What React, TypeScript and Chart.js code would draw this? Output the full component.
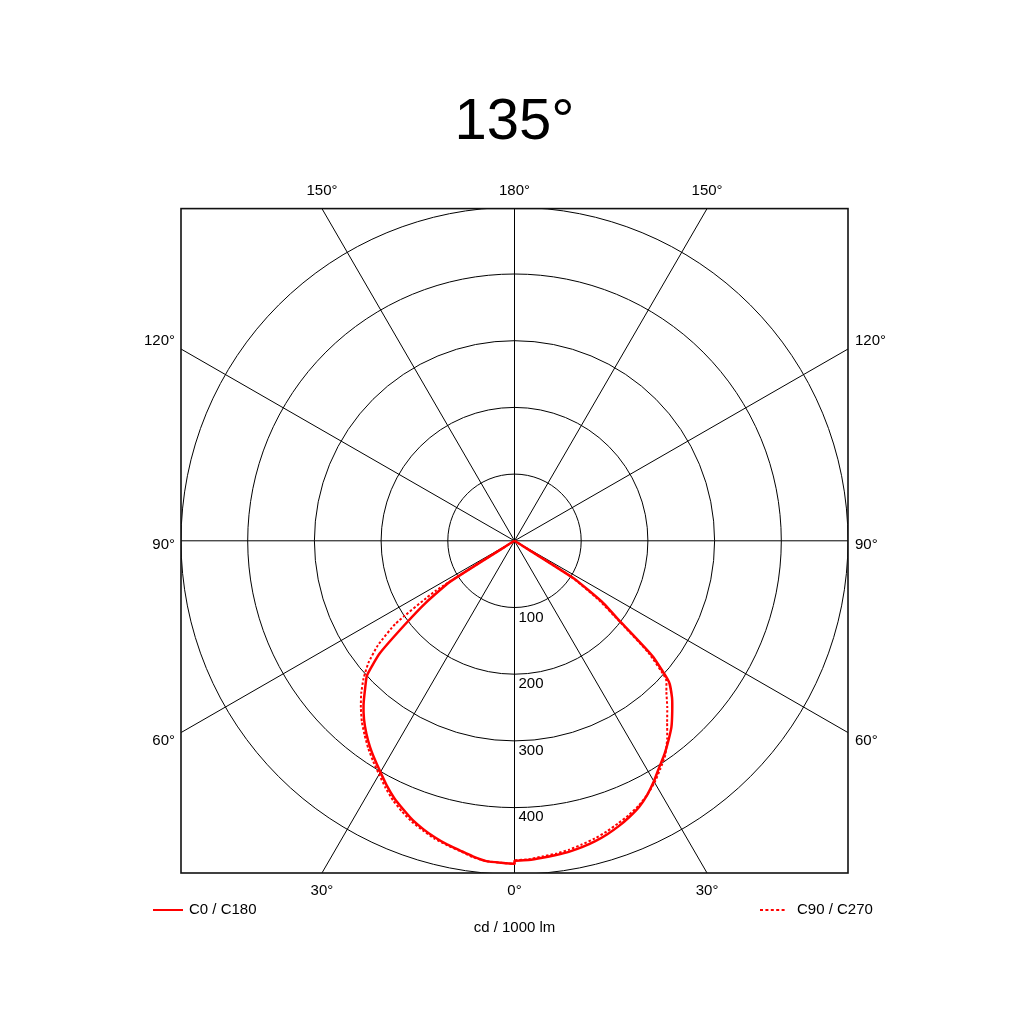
import React, { useEffect, useRef } from "react";
import { Chart, registerables } from "chart.js";

Chart.register(...registerables);

// gamma angles (deg from nadir) and intensities in cd / 1000 lm
const gammaAngles = [
  0, 2.5, 5, 7.5, 10, 12.5, 15, 17.5, 20, 22.5, 25, 27.5, 30, 32.5, 35, 37.5, 40, 42.5, 45, 47.5, 50, 52.5, 55,
  57.5, 60, 70, 80, 90,
];
const c0Values = [
  482, 481, 479, 477, 475, 472, 468, 463, 457, 450, 442, 431, 418, 404, 392, 379, 366, 350, 334, 314, 270, 200, 160,
  105, 0, 0, 0, 0,
];
const c180Values = [
  486, 485, 484, 479, 473, 468, 462, 455, 447, 437, 427, 415, 402, 390, 378, 365, 351, 335, 317, 300, 264, 207, 162,
  115, 0, 0, 0, 0,
];
const c90Values = [
  481, 480, 477, 475, 472, 468, 464, 459, 453, 447, 440, 431, 420, 407, 394, 376, 356, 339, 322, 308, 262, 196, 152,
  100, 0, 0, 0, 0,
];
const c270Values = [
  486, 485, 484, 480, 474, 469, 464, 457, 450, 441, 431, 419, 406, 394, 382, 369, 356, 341, 325, 307, 286, 258, 218,
  140, 0, 0, 0, 0,
];

const ringValues = [100, 200, 300, 400, 500];
const ringLabels = ["100", "200", "300", "400"];
const spokeAngles = [0, 30, 60, 90, 120, 150, 180, 210, 240, 270, 300, 330];
// signed angles: negative = left half
const labelAngles = [0, 30, 60, 90, 120, 150, 180, -30, -60, -90, -120, -150];
const axisMax = 500;

const titleText = "135°";
const unitText = "cd / 1000 lm";
const solidName = "C0 / C180";
const dottedName = "C90 / C270";

const FONT = "'Liberation Sans', Arial, sans-serif";
const RED = "#ff0000";

const rad = (d: number) => (d * Math.PI) / 180;

// right half plane (C0 / C90) from the cut-off down to nadir, then left half back up
function buildPath(right: number[], left: number[]) {
  const pts: { x: number; y: number }[] = [];
  for (let i = gammaAngles.length - 1; i >= 0; i--) {
    const g = rad(gammaAngles[i]);
    pts.push({ x: right[i] * Math.sin(g), y: -right[i] * Math.cos(g) });
  }
  for (let i = 0; i < gammaAngles.length; i++) {
    const g = rad(gammaAngles[i]);
    pts.push({ x: -left[i] * Math.sin(g), y: -left[i] * Math.cos(g) });
  }
  return pts;
}

const polarGrid = {
  id: "polarGrid",
  beforeDatasetsDraw(chart: any) {
    const { ctx, chartArea, scales } = chart;
    const sx = scales.x;
    const sy = scales.y;
    const cx = sx.getPixelForValue(0);
    const cy = sy.getPixelForValue(0);
    ctx.save();
    ctx.beginPath();
    ctx.rect(chartArea.left, chartArea.top, chartArea.right - chartArea.left, chartArea.bottom - chartArea.top);
    ctx.clip();
    ctx.strokeStyle = "#000";
    ctx.lineWidth = 1;
    ringValues.forEach((v) => {
      const r = sx.getPixelForValue(v) - cx;
      ctx.beginPath();
      ctx.arc(cx, cy, r, 0, Math.PI * 2);
      ctx.stroke();
    });
    spokeAngles.forEach((a) => {
      const far = axisMax * 3;
      ctx.beginPath();
      ctx.moveTo(cx, cy);
      ctx.lineTo(sx.getPixelForValue(far * Math.sin(rad(a))), sy.getPixelForValue(-far * Math.cos(rad(a))));
      ctx.stroke();
    });
    ctx.restore();

    ctx.save();
    ctx.strokeStyle = "#111";
    ctx.lineWidth = 1.6;
    ctx.strokeRect(chartArea.left, chartArea.top, chartArea.right - chartArea.left, chartArea.bottom - chartArea.top);

    ctx.fillStyle = "#000";
    ctx.font = `15px ${FONT}`;
    ctx.textAlign = "left";
    ctx.textBaseline = "top";
    ringLabels.forEach((t, i) => {
      const py = sy.getPixelForValue(-ringValues[i]);
      ctx.fillText(t, cx + 4, py + 3);
    });
    ctx.restore();
  },
  afterDraw(chart: any) {
    const { ctx, chartArea, scales } = chart;
    const sx = scales.x;
    const sy = scales.y;
    const cy = sy.getPixelForValue(0);
    ctx.save();
    ctx.fillStyle = "#000";
    ctx.font = `15px ${FONT}`;
    ctx.textBaseline = "middle";
    labelAngles.forEach((a) => {
      const s = Math.sin(rad(a));
      const c = -Math.cos(rad(a));
      const t = axisMax / Math.max(Math.abs(s), Math.abs(c));
      const px = sx.getPixelForValue(t * s);
      const py = sy.getPixelForValue(t * c);
      const text = `${Math.abs(a)}°`;
      if (Math.abs(s) > Math.abs(c) + 1e-6) {
        const dy = Math.abs(a) === 90 ? 4 : py < cy ? -8 : 8;
        ctx.textAlign = s > 0 ? "left" : "right";
        ctx.fillText(text, s > 0 ? chartArea.right + 7 : chartArea.left - 6, py + dy);
      } else {
        ctx.textAlign = "center";
        ctx.fillText(text, px, c > 0 ? chartArea.top - 18 : chartArea.bottom + 18);
      }
    });

    // legend
    const ly = chartArea.bottom + 37;
    ctx.strokeStyle = RED;
    ctx.lineWidth = 2;
    ctx.beginPath();
    ctx.moveTo(chartArea.left - 28, ly);
    ctx.lineTo(chartArea.left + 2, ly);
    ctx.stroke();
    ctx.textAlign = "left";
    ctx.fillText(solidName, chartArea.left + 8, ly);

    ctx.setLineDash([3, 2.4]);
    ctx.beginPath();
    ctx.moveTo(chartArea.right - 88, ly);
    ctx.lineTo(chartArea.right - 62, ly);
    ctx.stroke();
    ctx.setLineDash([]);
    ctx.fillText(dottedName, chartArea.right - 51, ly);

    ctx.textAlign = "center";
    ctx.fillText(unitText, sx.getPixelForValue(0), chartArea.bottom + 55);
    ctx.restore();
  },
};

const App: React.FC = () => {
  const canvasRef = useRef<HTMLCanvasElement>(null);

  useEffect(() => {
    if (!canvasRef.current) return;
    const chart = new Chart(canvasRef.current, {
      type: "scatter",
      data: {
        datasets: [
          {
            label: solidName,
            data: buildPath(c0Values, c180Values),
            showLine: true,
            borderColor: RED,
            borderWidth: 2.5,
            pointRadius: 0,
            tension: 0.15,
          },
          {
            label: dottedName,
            data: buildPath(c90Values, c270Values),
            showLine: true,
            borderColor: RED,
            borderWidth: 2,
            borderDash: [2.5, 2],
            pointRadius: 0,
            tension: 0.15,
          },
        ],
      },
      options: {
        animation: false,
        responsive: true,
        maintainAspectRatio: false,
        layout: { padding: { top: 0, left: 181, right: 176, bottom: 151 } },
        scales: {
          x: { type: "linear", min: -axisMax, max: axisMax, display: false },
          y: { type: "linear", min: -axisMax, max: axisMax, display: false },
        },
        plugins: {
          legend: { display: false },
          tooltip: { enabled: false },
          title: {
            display: true,
            text: titleText,
            color: "#000",
            font: { family: FONT, size: 58, weight: "normal" },
            padding: { top: 88, bottom: 51 },
          },
        },
      },
      plugins: [polarGrid],
    });
    return () => chart.destroy();
  }, []);

  return (
    <div style={{ position: "absolute", left: 0, top: 0, width: 1024, height: 1024, background: "#fff" }}>
      <canvas ref={canvasRef} />
    </div>
  );
};

export default App;
